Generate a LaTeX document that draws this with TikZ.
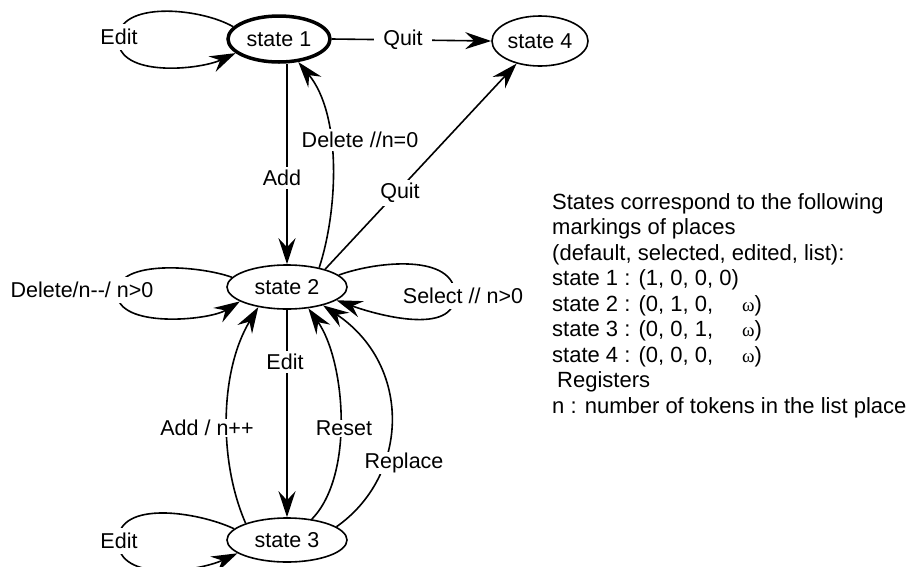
\documentclass[tikz,border=0pt]{standalone}
\usepackage{fontspec}
\setmainfont{Liberation Sans}
\newfontfamily\omegafont{Liberation Serif}
\usetikzlibrary{arrows.meta,shapes.geometric}
\begin{document}
\begin{tikzpicture}[x=1pt,y=1pt,
  every node/.style={font=\fontsize{21.5}{25.5}\selectfont},
  st/.style={draw, ellipse, line width=1.6pt, inner sep=0pt},
  arr/.style={line width=1.6pt, -{Stealth[length=26pt,width=17pt,inset=9pt]}},
  lbl/.style={fill=white, inner sep=3pt},
  looplbl/.style={fill=white, inner xsep=1pt, inner ysep=5pt}]
\useasboundingbox (0,0) rectangle (906,-566);
% states
\node[st, line width=3.5pt, minimum width=102, minimum height=46] (s1) at (279,-39) {state 1};
\node[st, minimum width=96, minimum height=50] (s4) at (540,-41) {state 4};
\node[st, minimum width=120, minimum height=44] (s2) at (287,-287) {state 2};
\node[st, minimum width=120, minimum height=44] (s3) at (287,-540) {state 3};
% loop tips (hidden under labels)
\coordinate (t1) at (118,-39);
\coordinate (t2l) at (117,-293);
\coordinate (t2r) at (455,-295);
\coordinate (t3) at (118,-541);
% connectors
\draw[arr] (s1.165) to[out=150,in=90,looseness=0.85] (t1) to[out=-90,in=205,looseness=0.85] (s1.198);
\draw[arr] (s1.east) -- (s4.west);
\draw[arr] (s1.south -| s2.north) -- (s2.north);
\draw[arr] (s2.31) .. controls (338,-210) and (342,-115) .. (s1.-50);
\draw[arr] (s2.25) -- (s4.-136);
\draw[arr] (s2.170) to[out=160,in=90,looseness=0.75] (t2l) to[out=-90,in=212,looseness=0.75] (s2.197);
\draw[arr] (s2.13) to[out=20,in=90,looseness=0.9] (t2r) to[out=-90,in=-20,looseness=0.9] (s2.-15);
\draw[arr] (s2.south) -- (s3.north);
\draw[arr] (s3.158) .. controls (218,-460) and (220,-370) .. (s2.-145);
\draw[arr] (s3.40) .. controls (355,-475) and (345,-360) .. (s2.-45);
\draw[arr] (s3.15) .. controls (410,-475) and (412,-365) .. (s2.-27);
\draw[arr] (s3.168) to[out=155,in=90,looseness=0.9] (t3) to[out=-90,in=205,looseness=0.9] (s3.195);
% labels
\node[looplbl] (le1) at (119,-37) {Edit};
\node[lbl, inner xsep=9pt] (lq1) at (403,-40) {Quit};
\node[lbl] (ladd) at (282,-178) {Add};
\node[lbl] (ldel) at (360,-140) {Delete //n=0};
\node[lbl] (lq2) at (400,-193) {Quit};
\node[looplbl] (ldl) at (82,-290) {Delete/n-{}-/ n>0};
\node[looplbl] (lsel) at (463,-296) {Select // n>0};
\node[lbl] (le2) at (285,-362) {Edit};
\node[lbl, inner sep=1pt] (ladd2) at (207,-428) {Add / n++};
\node[lbl, inner sep=1pt] (lres) at (344,-428) {Reset};
\node[lbl, inner sep=1pt] (lrep) at (404,-463) {Replace};
\node[looplbl] (le3) at (119,-541) {Edit};
% explanatory text
\node[anchor=base west, align=left, inner sep=0pt,
      font=\fontsize{22}{25.5}\selectfont] (txt) at (552,-413) {%
States correspond to the following\\
markings of places\\
(default, selected, edited, list):\\
state 1 : (1, 0, 0, 0)\\
\makebox[190pt][l]{state 2 : (0, 1, 0,}{\omegafont\fontsize{19}{19}\selectfont ω})\\
\makebox[190pt][l]{state 3 : (0, 0, 1,}{\omegafont\fontsize{19}{19}\selectfont ω})\\
\makebox[190pt][l]{state 4 : (0, 0, 0,}{\omegafont\fontsize{19}{19}\selectfont ω})\\
\hspace*{5pt}Registers\\
n : number of tokens in the list place};
\end{tikzpicture}
\end{document}
